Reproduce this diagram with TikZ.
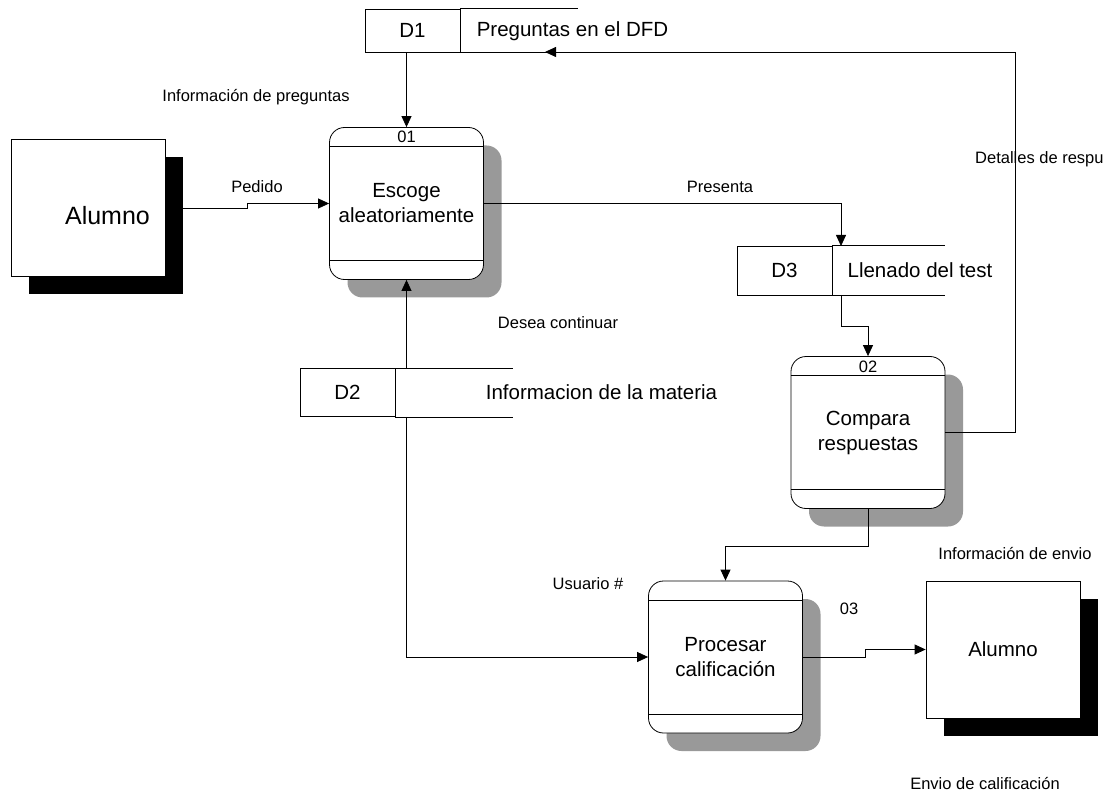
\documentclass[tikz,border=0pt]{standalone}
\usepackage{fontspec}
\setmainfont{Liberation Sans}
\usetikzlibrary{arrows.meta,shadows,calc}
\definecolor{shadowgrey}{HTML}{999999}
\tikzset{
  big/.style={font=\fontsize{20.5}{25}\selectfont},
  small/.style={font=\fontsize{16.5}{20}\selectfont},
  proc/.style={draw, line width=0.8pt, fill=white, rounded corners=15pt,
    minimum width=154pt, minimum height=152pt, inner sep=0pt, align=center, big,
    copy shadow={shadow xshift=18pt, shadow yshift=-18pt, fill=shadowgrey, draw=none}},
  ent/.style={draw, line width=0.8pt, fill=white, minimum width=154pt,
    minimum height=137pt, inner sep=0pt, big,
    copy shadow={shadow xshift=18pt, shadow yshift=-18pt, fill=black, draw=none}},
  storeid/.style={draw, line width=0.8pt, minimum width=95pt, inner sep=0pt, big},
  flow/.style={line width=0.8pt, -{Triangle[length=11pt,width=10pt]}},
  plain/.style={line width=0.8pt},
}
\begin{document}
\begin{tikzpicture}[x=1pt, y=-1pt]
\useasboundingbox (0,0) rectangle (1108,794);

% external entities
\node[ent] (a1) at (88,208) {};
\node[font=\fontsize{25}{30}\selectfont] (a1t) at (107.5,216) {Alumno};
\node[ent] (a2) at (1003,649.5) {Alumno};

% processes
\node[proc] (p1) at (406.5,203.5) {Escoge\\aleatoriamente};
\node[proc] (p2) at (868,432.5) {Compara\\respuestas};
\node[proc] (p3) at (725.5,657) {Procesar\\calificación};
\foreach \p in {p1,p2,p3}{
  \draw[plain] ([yshift=-19.5pt]\p.north west) -- ([yshift=-19.5pt]\p.north east);
  \draw[plain] ([yshift=19.5pt]\p.south west) -- ([yshift=19.5pt]\p.south east);
}
\node[small, inner sep=0pt] (p1n) at (406.5,137) {01};
\node[small, inner sep=0pt] (p2n) at (868,366.5) {02};

% data stores
\node[storeid, minimum height=43pt] (d1id) at (412.5,30.5) {D1};
\draw[plain] (d1id.north east) -- ++(118,0);
\draw[plain] (d1id.south east) -- ++(118,0);
\node[big] (d1t) at (572.5,31) {Preguntas en el DFD};

\node[storeid, minimum height=49pt] (d3id) at (784.5,270.5) {D3};
\draw[plain] (d3id.north east) -- ++(113,0);
\draw[plain] (d3id.south east) -- ++(113,0);
\node[big] (d3t) at (920,270.5) {Llenado del test};

\node[storeid, minimum height=48pt] (d2id) at (347.5,392.5) {D2};
\draw[plain] (d2id.north east) -- ++(118,0);
\draw[plain] (d2id.south east) -- ++(118,0);
\node[big] (d2t) at (601.5,392.5) {Informacion de la materia};

% connector end points on the stores
\coordinate (d3in) at (841,246);
\coordinate (d3out) at (841,295);
\coordinate (d1in) at (545,52);

% data flows
\draw[flow] (d1id.south -| p1.north) -- (p1.north);
\draw[flow] (a1.east) -- ++(82,0) |- (p1.west);
\draw[flow] (p1.east) -| (d3in);
\draw[flow] (d3out) -- ++(0,31) -| (p2.north);
\draw[flow] (p2.east) -- ++(70,0) |- (d1in);
\draw[flow] (p1.south |- d2id.north) -- (p1.south);
\draw[flow] (p1.south |- d2id.south) |- (p3.west);
\draw[flow] (p2.south) -- ++(0,37) -| (p3.north);
\draw[flow] (p3.east) -- ++(62,0) |- (a2.west);

% flow labels
\node[small] (l1) at (256,97) {Información de preguntas};
\node[small] (l2) at (257,187) {Pedido};
\node[small] (l3) at (720,187) {Presenta};
\node[small, anchor=west, inner sep=0pt] (l4) at (975,159) {Detalles de respu};
\node[small] (l5) at (558,323) {Desea continuar};
\node[small] (l6) at (588,584) {Usuario \#};
\node[small] (l7) at (849,609) {03};
\node[small] (l8) at (1015,554) {Información de envio};
\node[small] (l9) at (985,783) {Envio de calificación};
\end{tikzpicture}
\end{document}
